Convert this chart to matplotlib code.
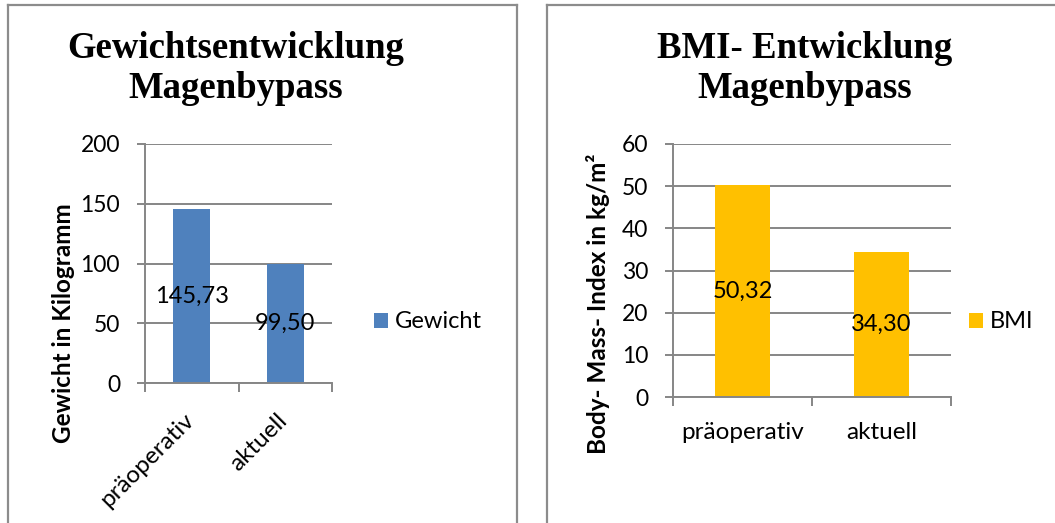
import numpy as np
import matplotlib.pyplot as plt
import matplotlib.transforms as mtransforms
from matplotlib.lines import Line2D

# values shown in the two charts
kategorien = ['präoperativ', 'aktuell']
gewicht = [145.73, 99.50]
bmi = [50.32, 34.30]
gewicht_ticks = [0, 50, 100, 150, 200]
bmi_ticks = [0, 10, 20, 30, 40, 50, 60]

W, H = 1055, 523
grau = '#868686'
plt.rcParams['font.family'] = 'Lato'


def fx(px):
    return px / W


def fy(py):
    return 1 - py / H


def bar_panel(ax, values, ticks, color, ylabel, name, rotate, label_pos, leg_x):
    x = np.arange(len(values))
    ax.bar(x, values, width=0.4, color=color, zorder=2, label=name)
    ax.set_xlim(-0.5, len(values) - 0.5)
    ax.set_ylim(ticks[0], ticks[-1])
    ax.set_yticks(ticks)
    ax.grid(axis='y', color=grau, linewidth=1.4, zorder=0)
    for s in ['top', 'right']:
        ax.spines[s].set_visible(False)
    for s in ['left', 'bottom']:
        ax.spines[s].set_color(grau)
        ax.spines[s].set_linewidth(1.4)
    ax.tick_params(axis='y', direction='out', length=6, width=1.4, color=grau,
                   pad=12, labelsize=16.5)
    # category ticks sit on the boundaries, labels in between
    ax.set_xticks(np.arange(-0.5, len(values)), minor=True)
    ax.tick_params(axis='x', which='minor', direction='out', length=6.5,
                   width=1.4, color=grau)
    ax.set_xticks(x)
    if rotate:
        ax.set_xticklabels(kategorien, rotation=45, ha='right', va='top',
                           rotation_mode='anchor')
        ax.tick_params(axis='x', which='major', length=0, pad=16, labelsize=17.5)
        shift = mtransforms.ScaledTranslation(-6 / 72, -3 / 72,
                                              ax.figure.dpi_scale_trans)
        for lab in ax.get_xticklabels():
            lab.set_transform(lab.get_transform() + shift)
    else:
        ax.set_xticklabels(kategorien)
        ax.tick_params(axis='x', which='major', length=0, pad=18, labelsize=17.5)
    for xi, v in zip(x, values):
        ax.text(xi, v / 2, f'{v:.2f}'.replace('.', ','), ha='center',
                va='center', fontsize=17, zorder=3)
    ax.set_ylabel(ylabel, fontsize=17.5, fontweight='bold')
    ax.yaxis.set_label_coords(*label_pos)
    ax.legend(loc='center left', bbox_to_anchor=(fx(leg_x), fy(322)),
              bbox_transform=ax.figure.transFigure, frameon=False,
              fontsize=17, handlelength=0.6, handleheight=0.6,
              handletextpad=0.3, borderpad=0, borderaxespad=0)


fig = plt.figure(figsize=(W / 100, H / 100), dpi=100)

ax1 = fig.add_axes([fx(145), fy(383), fx(332 - 145), (383 - 144) / H])
bar_panel(ax1, gewicht, gewicht_ticks, '#4F81BD', 'Gewicht in Kilogramm',
          'Gewicht', True, (-0.374, 0.25), 374)

ax2 = fig.add_axes([fx(673), fy(397), fx(951 - 673), (397 - 144) / H])
bar_panel(ax2, bmi, bmi_ticks, '#FFC000', 'Body- Mass- Index in kg/m²',
          'BMI', False, (-0.227, 0.37), 969)

# titles, two lines each
title_kw = dict(family='Liberation Serif', fontweight='bold', fontsize=26.5,
                ha='center', va='baseline')
fig.text(fx(236), fy(58), 'Gewichtsentwicklung', **title_kw)
fig.text(fx(236), fy(98), 'Magenbypass', **title_kw)
fig.text(fx(805), fy(58), 'BMI- Entwicklung', **title_kw)
fig.text(fx(805), fy(98), 'Magenbypass', **title_kw)

# chart frames
rahmen = dict(color='#8c8c8c', linewidth=1.6, transform=fig.transFigure)
for x0, x1 in [(8, 517), (547, 1060)]:
    fig.add_artist(Line2D([fx(x0), fx(x0)], [fy(530), fy(5)], **rahmen))
    fig.add_artist(Line2D([fx(x0), fx(x1)], [fy(5), fy(5)], **rahmen))
fig.add_artist(Line2D([fx(517), fx(517)], [fy(530), fy(5)], **rahmen))

fig.savefig('out.png', dpi=100)
